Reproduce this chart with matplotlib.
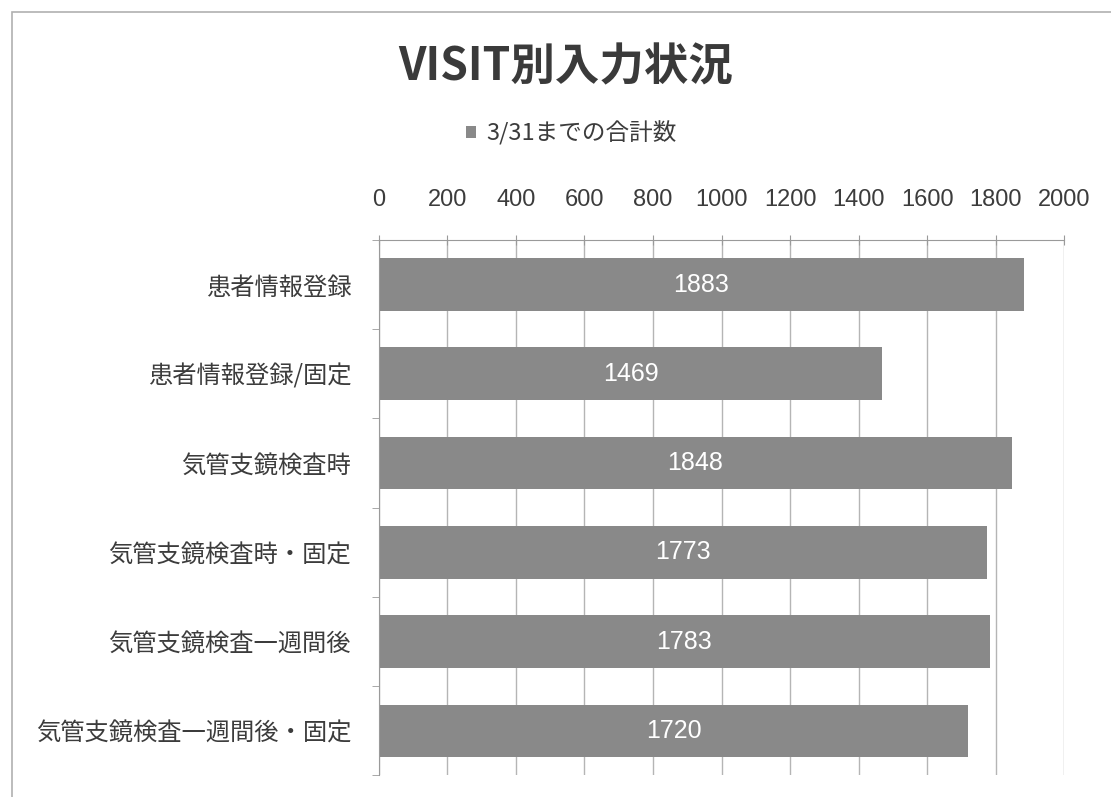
import matplotlib.pyplot as plt
from matplotlib.patches import Rectangle

plt.rcParams['font.family'] = ['Noto Sans CJK JP', 'DejaVu Sans']

# data
categories = ["患者情報登録", "患者情報登録/固定", "気管支鏡検査時", "気管支鏡検査時・固定",
              "気管支鏡検査一週間後", "気管支鏡検査一週間後・固定"]
totals = [1883, 1469, 1848, 1773, 1783, 1720]
xticks = [0, 200, 400, 600, 800, 1000, 1200, 1400, 1600, 1800, 2000]
series_name = "3/31までの合計数"
title = "VISIT別入力状況"

num_font = ["Liberation Sans", "DejaVu Sans"]

fig = plt.figure(figsize=(11.11, 7.97), dpi=100)
ax = fig.add_axes([0.341, 0.027, 0.617, 0.672])

pos = list(range(len(categories)))
bars = ax.barh(pos, totals, height=0.59, color="#898989", label=series_name, zorder=2)

# value labels in the middle of each bar
for b, v in zip(bars, totals):
    ax.text(v / 2, b.get_y() + b.get_height() / 2, str(v), ha="center", va="center",
            color="white", fontsize=18, family=num_font, zorder=3)

ax.set_xlim(0, 2000)
ax.set_ylim(len(categories) - 0.5, -0.5)
ax.set_xticks(xticks)
ax.set_xticklabels([str(t) for t in xticks], family=num_font)
ax.xaxis.tick_top()
ax.tick_params(axis="x", direction="inout", length=7, color="#9a9a9a", labelsize=17,
               labelcolor="#3c3c3c", pad=17)
ax.grid(axis="x", color="#b5b5b5", linewidth=1, zorder=0)

ax.set_yticks(pos)
ax.set_yticklabels(categories)
ax.set_yticks([p + 0.5 for p in pos[:-1]] + [-0.5, len(categories) - 0.5], minor=True)
ax.tick_params(axis="y", which="major", length=0, labelsize=17.5, labelcolor="#3c3c3c", pad=20)
ax.tick_params(axis="y", which="minor", length=5, color="#9a9a9a")

for s in ["right", "bottom"]:
    ax.spines[s].set_visible(False)
ax.spines["left"].set_color("#9a9a9a")
ax.spines["top"].set_color("#9a9a9a")

fig.text(0.509, 0.915, title, ha="center", va="center", fontsize=32, fontweight="bold",
         color="#3a3a3a")
fig.legend(loc="center", bbox_to_anchor=(0.514, 0.833), frameon=False, fontsize=17,
           handlelength=0.45, handleheight=0.45, handletextpad=0.4, labelcolor="#3c3c3c")

# outer chart frame
fig.patches.append(Rectangle((0.011, -0.01), 1.0, 0.995, transform=fig.transFigure,
                             fill=False, edgecolor="#b0b0b0", linewidth=1.2))

fig.savefig("out.png", dpi=100, facecolor="white")
